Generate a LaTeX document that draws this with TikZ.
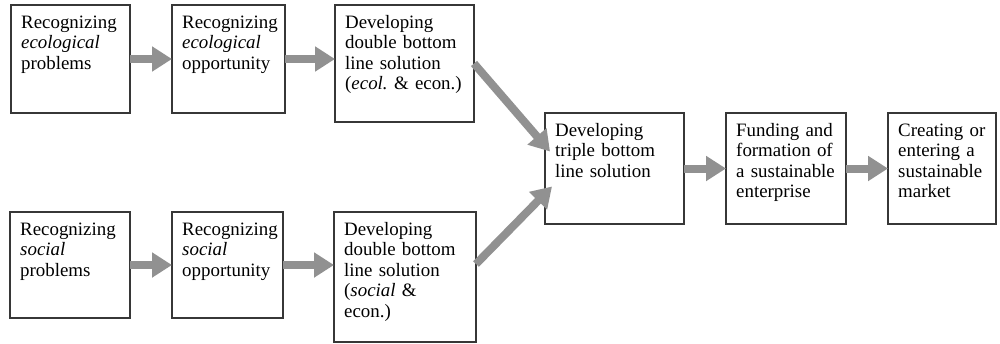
\documentclass[tikz,border=0pt]{standalone}
\usepackage{fontspec}
\setmainfont{Liberation Serif}
\usetikzlibrary{arrows.meta,calc}
\definecolor{arrowgray}{RGB}{145,145,145}
\definecolor{boxline}{RGB}{55,55,55}
\frenchspacing

% \stagebox{name}{left}{top}{right}{bottom}{text}
\newcommand\stagebox[6]{%
  \node[stage, minimum width={(#4-#2)*1pt}, minimum height={(#5-#3)*1pt}]
    (#1) at ({(#2+#4)/2},{(#3+#5)/2}) {};
  \node[stagetext] (#1-text) at ($(#1.north west)+(10,23)$) {#6};%
}

\begin{document}
\begin{tikzpicture}[x=1pt,y=-1pt,
  stage/.style={draw=boxline, line width=1.1pt, inner sep=0pt, outer sep=0pt},
  stagetext/.style={anchor=base west, inner sep=0pt, align=left, text width=140pt,
    font=\fontsize{18.9pt}{20.5pt}\selectfont},
  flow/.style={draw=arrowgray, line width=8pt, -{Triangle[length=20pt,width=24pt]}}]
\useasboundingbox (0,0) rectangle (1000,343);

% ecological track
\stagebox{t1}{11}{5}{130}{113}{Recognizing\\\textit{ecological}\\problems}
\stagebox{t2}{172}{5}{285}{113}{Recognizing\\\textit{ecological}\\opportunity}
\stagebox{t3}{335}{5}{474}{122}{Developing\\double bottom\\line solution\\(\textit{ecol.} \& econ.)}

% social track
\stagebox{b1}{10}{212}{130}{318}{Recognizing\\\textit{social}\\problems}
\stagebox{b2}{172}{212}{283}{318}{Recognizing\\\textit{social}\\opportunity}
\stagebox{b3}{334}{212}{476}{342}{Developing\\double bottom\\line solution\\(\textit{social} \&\\econ.)}

% merged track
\stagebox{tr}{545}{113}{684}{224}{Developing\\triple bottom\\line solution}
\stagebox{fu}{726}{113}{846}{224}{Funding and\\formation of\\a sustainable\\enterprise}
\stagebox{cr}{888}{113}{996}{224}{Creating or\\entering a\\sustainable\\market}

% flows
\draw[flow] (t1) -- (t2);
\draw[flow] (t2.east) -- (t2.east -| t3.west);
\draw[flow] (b1) -- (b2);
\draw[flow] (b2.east) -- (b2.east -| b3.west);
\draw[flow] (t3.east) -- ($(tr.west)+(5,-17)$);
\draw[flow] ($(b3.east)+(0,-13)$) -- ($(tr.west)+(7,18)$);
\draw[flow] (tr) -- (fu);
\draw[flow] (fu) -- (cr);
\end{tikzpicture}
\end{document}
